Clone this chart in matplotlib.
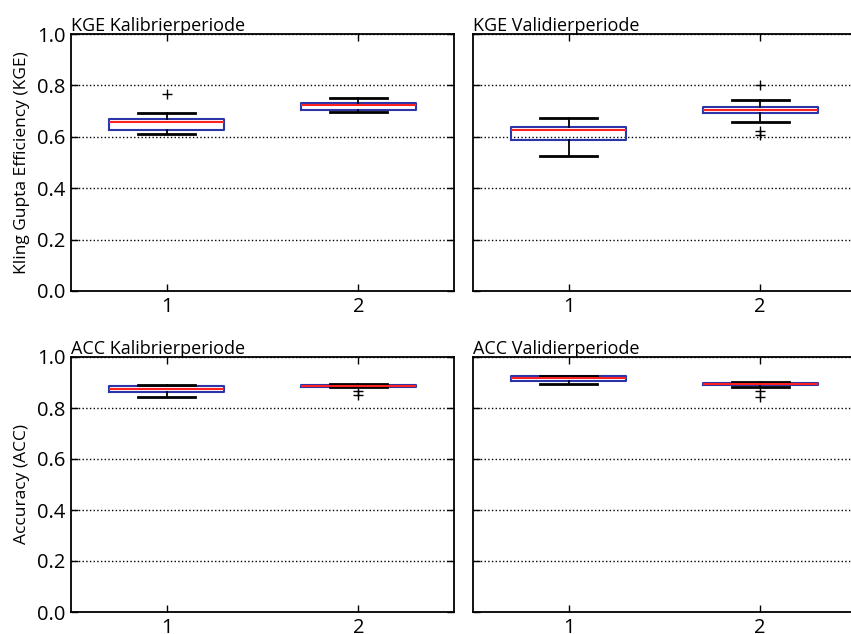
import matplotlib
matplotlib.use("Agg")
import matplotlib.pyplot as plt

plt.rcParams['font.family'] = ['Open Sans', 'DejaVu Sans']

positions = [1, 2]
tick_labels = ["1", "2"]
yticks = [0.0, 0.2, 0.4, 0.6, 0.8, 1.0]

titles = ["KGE Kalibrierperiode", "KGE Validierperiode",
          "ACC Kalibrierperiode", "ACC Validierperiode"]
ylabels = ["Kling Gupta Efficiency (KGE)", "Accuracy (ACC)"]

# (lower cap, q1, median, q3, upper cap), outliers
kge_cal = [(0.612, 0.628, 0.656, 0.668, 0.694), (0.698, 0.706, 0.724, 0.733, 0.750)]
kge_cal_fliers = [[0.765], []]
kge_val = [(0.525, 0.586, 0.625, 0.637, 0.672), (0.659, 0.691, 0.703, 0.715, 0.744)]
kge_val_fliers = [[], [0.800, 0.623, 0.607]]
acc_cal = [(0.843, 0.863, 0.876, 0.885, 0.891), (0.882, 0.884, 0.888, 0.890, 0.895)]
acc_cal_fliers = [[], [0.866, 0.852]]
acc_val = [(0.895, 0.906, 0.919, 0.925, 0.925), (0.881, 0.889, 0.894, 0.899, 0.903)]
acc_val_fliers = [[], [0.868, 0.842]]

panels = [(kge_cal, kge_cal_fliers), (kge_val, kge_val_fliers),
          (acc_cal, acc_cal_fliers), (acc_val, acc_val_fliers)]


def make_stats(boxes, fliers):
    stats = []
    for (lo, q1, med, q3, hi), fl in zip(boxes, fliers):
        stats.append(dict(whislo=lo, q1=q1, med=med, q3=q3, whishi=hi, fliers=fl))
    return stats


fig = plt.figure(figsize=(8.51, 6.34), dpi=100)
W, H = 851.0, 634.0
rects = [
    (71 / W, 1 - 291 / H, 383 / W, 257 / H),
    (473 / W, 1 - 291 / H, 383 / W, 257 / H),
    (71 / W, 1 - 612 / H, 383 / W, 255 / H),
    (473 / W, 1 - 612 / H, 383 / W, 255 / H),
]

for i, (rect, (boxes, fliers)) in enumerate(zip(rects, panels)):
    ax = fig.add_axes(rect)
    ax.bxp(make_stats(boxes, fliers), positions=positions, widths=0.6,
           boxprops=dict(color='#2b35a8', linewidth=1.5),
           medianprops=dict(color='#ff2020', linewidth=1.5),
           whiskerprops=dict(color='black', linewidth=1.3),
           capprops=dict(color='black', linewidth=2.0),
           flierprops=dict(marker='+', markeredgecolor='black', markersize=7,
                           linestyle='none'))
    ax.set_xlim(0.5, 2.5)
    ax.set_ylim(0.0, 1.0)
    ax.set_xticks(positions)
    ax.set_xticklabels(tick_labels)
    ax.set_yticks(yticks)
    ax.yaxis.grid(True, linestyle=':', color='black', linewidth=1.0)
    ax.tick_params(direction='in', top=True, right=True, labelsize=14.5,
                   length=5, width=1, pad=4)
    for sp in ax.spines.values():
        sp.set_linewidth(1.3)
    if i % 2 == 0:
        ax.set_yticklabels([f"{y:.1f}" for y in yticks])
        ax.set_ylabel(ylabels[i // 2], fontsize=12.5, labelpad=5)
    else:
        ax.set_yticklabels([])
        # right edge of these panels lies outside the cropped figure
        ax.spines['right'].set_visible(False)
        ax.tick_params(right=False)
    ax.set_title(titles[i], loc='left', fontsize=13, pad=2)

fig.savefig("out.png", dpi=100)
